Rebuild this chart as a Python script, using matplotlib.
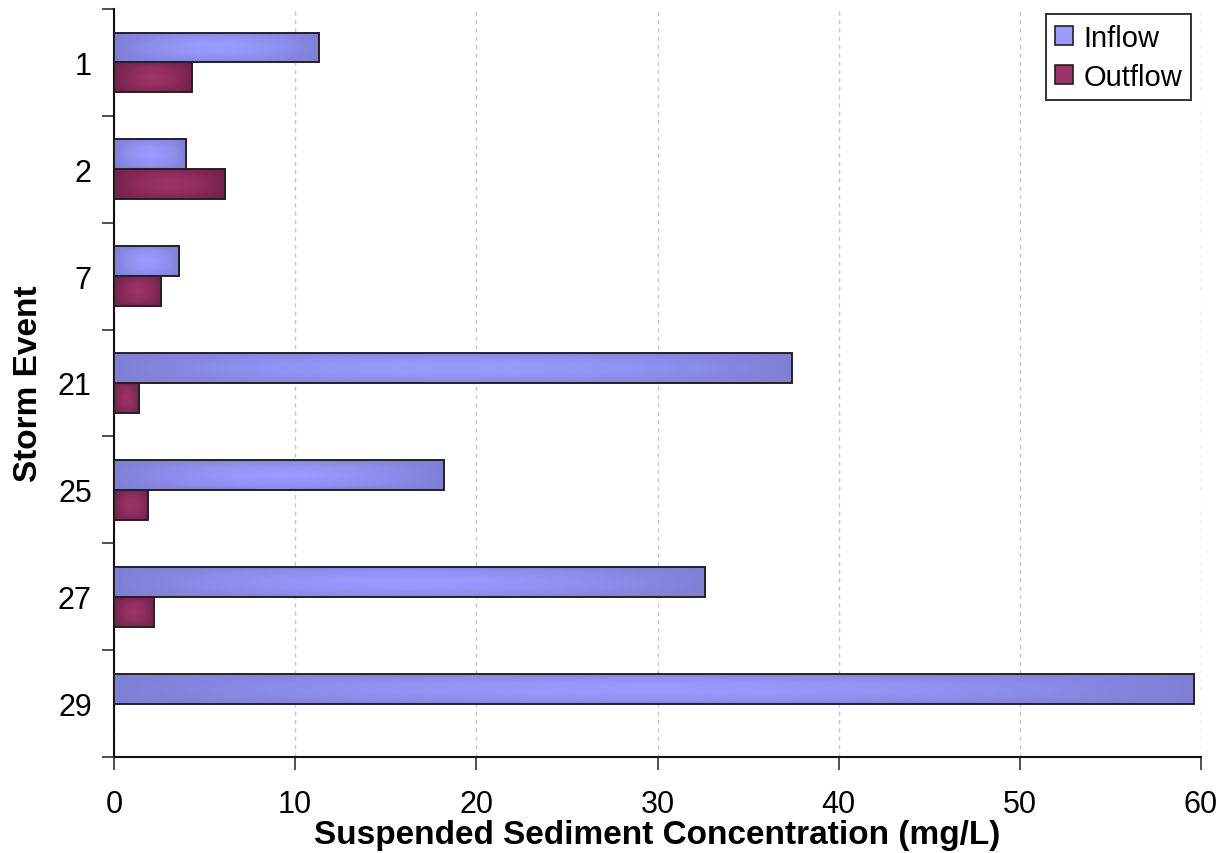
import numpy as np
import matplotlib
matplotlib.use("Agg")
import matplotlib.pyplot as plt
from matplotlib.colors import to_rgb
from matplotlib.patches import Patch

# Storm events and suspended sediment concentrations (mg/L)
events = ["1", "2", "7", "21", "25", "27", "29"]
inflow = [11.3, 4.0, 3.6, 37.4, 18.2, 32.6, 59.6]
outflow = [4.3, 6.1, 2.6, 1.4, 1.9, 2.2, 0.0]
series_names = ["Inflow", "Outflow"]
x_ticks = [0, 10, 20, 30, 40, 50, 60]

# (edge shade, centre highlight) for each series
shades = {
    "Inflow": ("#7f7fd6", "#9a9aff"),
    "Outflow": ("#74214c", "#9a3366"),
}

plt.rcParams['font.family'] = ['Liberation Sans', 'DejaVu Sans']

W, H = 1225, 854
fig = plt.figure(figsize=(W / 100, H / 100), dpi=100)
ax = fig.add_axes([114 / W, 1 - 758 / H, (1201 - 114) / W, (758 - 10) / H])

n = len(events)
pos = np.arange(n)
bh = 0.28


def gradient_fill(rects, edge, centre, zorder=3):
    c0 = np.array(to_rgb(edge))
    c1 = np.array(to_rgb(centre))
    u = np.linspace(-1, 1, 200)
    v = np.linspace(-1, 1, 40)
    U, V = np.meshgrid(u, v)
    t = (1 - np.abs(U) ** 1.8) * (1 - 0.7 * V ** 2)
    img = c0 + (c1 - c0) * t[..., None]
    for r in rects:
        w = r.get_width()
        if w <= 0:
            continue
        x0, y0, hh = r.get_x(), r.get_y(), r.get_height()
        im = ax.imshow(img, extent=[x0, x0 + w, y0 + hh, y0], aspect='auto',
                       interpolation='bilinear', zorder=zorder)
        im.set_clip_path(r)


bars_in = ax.barh(pos - bh / 2, inflow, height=bh, facecolor='none',
                  edgecolor='#222222', linewidth=1.4, zorder=4)
bars_out = ax.barh(pos + bh / 2, outflow, height=bh, facecolor='none',
                   edgecolor='#222222', linewidth=1.4, zorder=4)
for b in bars_out:
    if b.get_width() <= 0:
        b.set_visible(False)

gradient_fill(bars_in, *shades["Inflow"])
gradient_fill(bars_out, *shades["Outflow"])

ax.set_xlim(0, 60)
ax.set_ylim(n - 0.5, -0.5)

ax.set_xticks(x_ticks)
ax.set_xticklabels([str(t) for t in x_ticks], fontsize=22)
ax.tick_params(axis='x', which='major', direction='out', length=9, width=1.2,
               color='#333333', pad=14)

ax.set_yticks(np.arange(-0.5, n, 1.0))
ax.set_yticklabels([])
ax.set_yticks(pos, minor=True)
ax.set_yticklabels(events, minor=True, fontsize=22)
ax.tick_params(axis='y', which='major', direction='out', length=9, width=1.2,
               color='#333333')
ax.tick_params(axis='y', which='minor', length=0, pad=16)

ax.grid(axis='x', which='major', linestyle=(0, (3, 3)), color='#c8c8c8',
        linewidth=1.0, zorder=1)
ax.set_axisbelow(True)

for s in ['top', 'right']:
    ax.spines[s].set_visible(False)
for s in ['left', 'bottom']:
    ax.spines[s].set_linewidth(1.5)
    ax.spines[s].set_color('#111111')

ax.set_xlabel("Suspended Sediment Concentration (mg/L)", fontsize=24,
              fontweight='bold', labelpad=0)
ax.set_ylabel("Storm Event", fontsize=24, fontweight='bold', labelpad=10)

handles = [Patch(facecolor=shades[name][1], edgecolor='#222222', linewidth=1.2)
           for name in series_names]
leg = ax.legend(handles, series_names, loc='upper right',
                bbox_to_anchor=(0.991, 0.993), borderaxespad=0, fontsize=21,
                handlelength=0.6, handleheight=0.6, handletextpad=0.35,
                labelspacing=0.38, borderpad=0.32, fancybox=False,
                framealpha=1, edgecolor='#333333')
leg.get_frame().set_linewidth(1.4)

fig.savefig("out.png", dpi=100)
